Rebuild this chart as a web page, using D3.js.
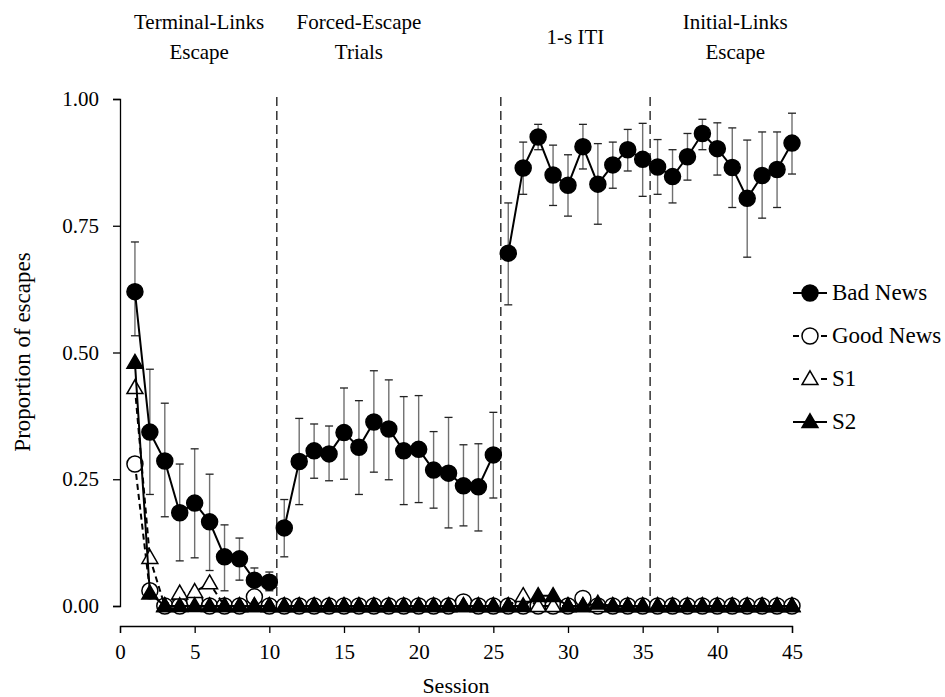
<!DOCTYPE html>
<html><head><meta charset="utf-8">
<script src="https://cdn.jsdelivr.net/npm/d3@7"></script>
<style>
body{margin:0;background:#fff;}
text{font-family:"Liberation Serif","Times New Roman",serif;fill:#000;}
</style></head>
<body><svg id="c" width="945" height="697"></svg>
<script>
const sessions = [1,2,3,4,5,6,7,8,9,10,11,12,13,14,15,16,17,18,19,20,21,22,23,24,25,26,27,28,29,30,31,32,33,34,35,36,37,38,39,40,41,42,43,44,45];
const phaseOf = [0,0,0,0,0,0,0,0,0,0,1,1,1,1,1,1,1,1,1,1,1,1,1,1,1,2,2,2,2,2,2,2,2,2,2,3,3,3,3,3,3,3,3,3,3];
const badNews = [0.62,0.343,0.286,0.184,0.203,0.166,0.097,0.093,0.051,0.047,
  0.154,0.285,0.306,0.30,0.342,0.313,0.363,0.349,0.306,0.309,0.268,0.262,0.237,0.235,0.298,
  0.696,0.864,0.925,0.85,0.83,0.906,0.832,0.87,0.9,0.881,
  0.866,0.847,0.886,0.932,0.902,0.865,0.804,0.849,0.861,0.913];
const badHi = [0.718,0.467,0.40,0.28,0.31,0.26,0.16,0.134,0.075,0.067,
  0.21,0.37,0.359,0.355,0.43,0.405,0.464,0.446,0.413,0.415,0.344,0.372,0.318,0.32,0.382,
  0.795,0.915,0.95,0.909,0.89,0.95,0.912,0.915,0.94,0.952,
  0.92,0.9,0.932,0.96,0.953,0.943,0.919,0.935,0.935,0.972];
const badLo = [0.533,0.22,0.176,0.089,0.095,0.07,0.03,0.051,0.03,0.03,
  0.097,0.2,0.252,0.247,0.25,0.22,0.264,0.249,0.2,0.204,0.193,0.154,0.158,0.148,0.213,
  0.594,0.812,0.9,0.79,0.769,0.862,0.753,0.824,0.858,0.808,
  0.812,0.795,0.84,0.9,0.85,0.786,0.688,0.765,0.786,0.852];
const goodNews = [0.28,0.03,0,0,0.01,0,0,0,0.018,0,
  0,0,0,0,0,0,0,0,0,0,0,0,0.008,0,0,
  0,0,0,0,0,0.015,0,0,0,0,
  0,0,0,0,0,0,0,0,0,0];
const s1 = [0.43,0.095,0,0.025,0.028,0.045,0,0,0,0,
  0,0,0,0,0,0,0,0,0,0,0,0,0,0,0,
  0,0.02,0,0,0,0,0,0,0,0,
  0,0,0,0,0,0,0,0,0,0];
const s2 = [0.48,0.025,0,0,0,0,0,0,0,0,
  0,0,0,0,0,0,0,0,0,0,0,0,0,0,0,
  0,0,0.02,0.02,0,0,0.005,0,0,0,
  0,0,0,0,0,0,0,0,0,0];
const seriesNames = ["Bad News","Good News","S1","S2"];
const phaseBounds = [10.5,25.5,35.5];
const phaseTitles = [["Terminal-Links","Escape"],["Forced-Escape","Trials"],["1-s ITI"],["Initial-Links","Escape"]];
const phaseTitleAt = [5.3,16,30.5,41.2];
const xTicks = [0,5,10,15,20,25,30,35,40,45];
const yTicks = [0,0.25,0.5,0.75,1.0];

const svg = d3.select("#c");
const x = d3.scaleLinear().domain([0,45]).range([120,792]);
const y = d3.scaleLinear().domain([0,1]).range([606,99]);

// axes
const yAxis = svg.append("g").attr("transform","translate(120,0)")
  .call(d3.axisLeft(y).tickValues(yTicks).tickFormat(d3.format(".2f")).tickSizeOuter(0).tickSize(7).tickPadding(14));
const xAxis = svg.append("g").attr("transform","translate(0,626)")
  .call(d3.axisBottom(x).tickValues(xTicks).tickSizeOuter(0).tickSize(7).tickPadding(11));
[yAxis,xAxis].forEach(a=>{
  a.selectAll("path,line").attr("stroke","#000").attr("stroke-width",1.3);
  a.selectAll("text").style("font-family","'Liberation Serif',serif").style("font-size","21px").attr("fill","#000");
});

svg.append("text").attr("x",456).attr("y",693).attr("text-anchor","middle").style("font-size","22px").text("Session");
svg.append("text").attr("transform","translate(30,352) rotate(-90)").attr("text-anchor","middle").style("font-size","23px").text("Proportion of escapes");

// phase lines
svg.append("g").selectAll("line").data(phaseBounds).join("line")
  .attr("x1",d=>x(d)).attr("x2",d=>x(d)).attr("y1",y(1)-2).attr("y2",y(0))
  .attr("stroke","#333").attr("stroke-width",1.5).attr("stroke-dasharray","9,5");

// phase titles
phaseTitles.forEach((t,i)=>{
  const tx = svg.append("text").attr("x",x(phaseTitleAt[i])).attr("text-anchor","middle").style("font-size","21px");
  if(t.length===1){ tx.attr("y",44).text(t[0]); }
  else { tx.attr("y",29).text(t[0]); svg.append("text").attr("x",x(phaseTitleAt[i])).attr("y",59).attr("text-anchor","middle").style("font-size","21px").text(t[1]); }
});

const styles = [
  {vals:badNews, dash:null, shape:"circle", fill:"#000"},
  {vals:goodNews, dash:"6,4", shape:"circle", fill:"#fff"},
  {vals:s1, dash:"6,4", shape:"tri", fill:"#fff"},
  {vals:s2, dash:null, shape:"tri", fill:"#000"}
];
const triPath = d3.symbol().type(d3.symbolTriangle).size(110);

// error bars (Bad News)
const eb = svg.append("g");
sessions.forEach((s,i)=>{
  eb.append("line").attr("x1",x(s)).attr("x2",x(s)).attr("y1",y(badHi[i])).attr("y2",y(badLo[i])).attr("stroke","#707070").attr("stroke-width",1.4);
  [badHi[i],badLo[i]].forEach(v=>eb.append("line").attr("x1",x(s)-4).attr("x2",x(s)+4).attr("y1",y(v)).attr("y2",y(v)).attr("stroke","#222").attr("stroke-width",1.3));
});

const line = d3.line().x(d=>x(d.s)).y(d=>y(d.v));
styles.forEach(st=>{
  const g = svg.append("g");
  for(let p=0;p<4;p++){
    const pts = sessions.map((s,i)=>({s,v:st.vals[i],p:phaseOf[i]})).filter(d=>d.p===p);
    g.append("path").attr("d",line(pts)).attr("fill","none").attr("stroke","#000").attr("stroke-width",2)
      .attr("stroke-dasharray",st.dash);
  }
  const pts = sessions.map((s,i)=>({s,v:st.vals[i]}));
  if(st.shape==="circle"){
    g.selectAll("circle").data(pts).join("circle").attr("cx",d=>x(d.s)).attr("cy",d=>y(d.v)).attr("r",8)
      .attr("fill",st.fill).attr("stroke","#000").attr("stroke-width",1.5);
  } else {
    g.selectAll("path.m").data(pts).join("path").attr("class","m").attr("d",triPath)
      .attr("transform",d=>`translate(${x(d.s)},${y(d.v)+1})`)
      .attr("fill",st.fill).attr("stroke","#000").attr("stroke-width",1.5);
  }
});

// legend
const legY = [293,336,379,422];
styles.forEach((st,i)=>{
  const g = svg.append("g").attr("transform",`translate(810,${legY[i]})`);
  if(st.dash){
    g.append("line").attr("x1",-17).attr("x2",-11).attr("stroke","#000").attr("stroke-width",2);
    g.append("line").attr("x1",11).attr("x2",17).attr("stroke","#000").attr("stroke-width",2);
  } else {
    g.append("line").attr("x1",-17).attr("x2",17).attr("stroke","#000").attr("stroke-width",2);
  }
  if(st.shape==="circle") g.append("circle").attr("r",8).attr("fill",st.fill).attr("stroke","#000").attr("stroke-width",1.5);
  else g.append("path").attr("d",triPath).attr("transform","translate(0,1)").attr("fill",st.fill).attr("stroke","#000").attr("stroke-width",1.5);
  g.append("text").attr("x",22).attr("y",7).style("font-size","23px").text(seriesNames[i]);
});
</script></body></html>
